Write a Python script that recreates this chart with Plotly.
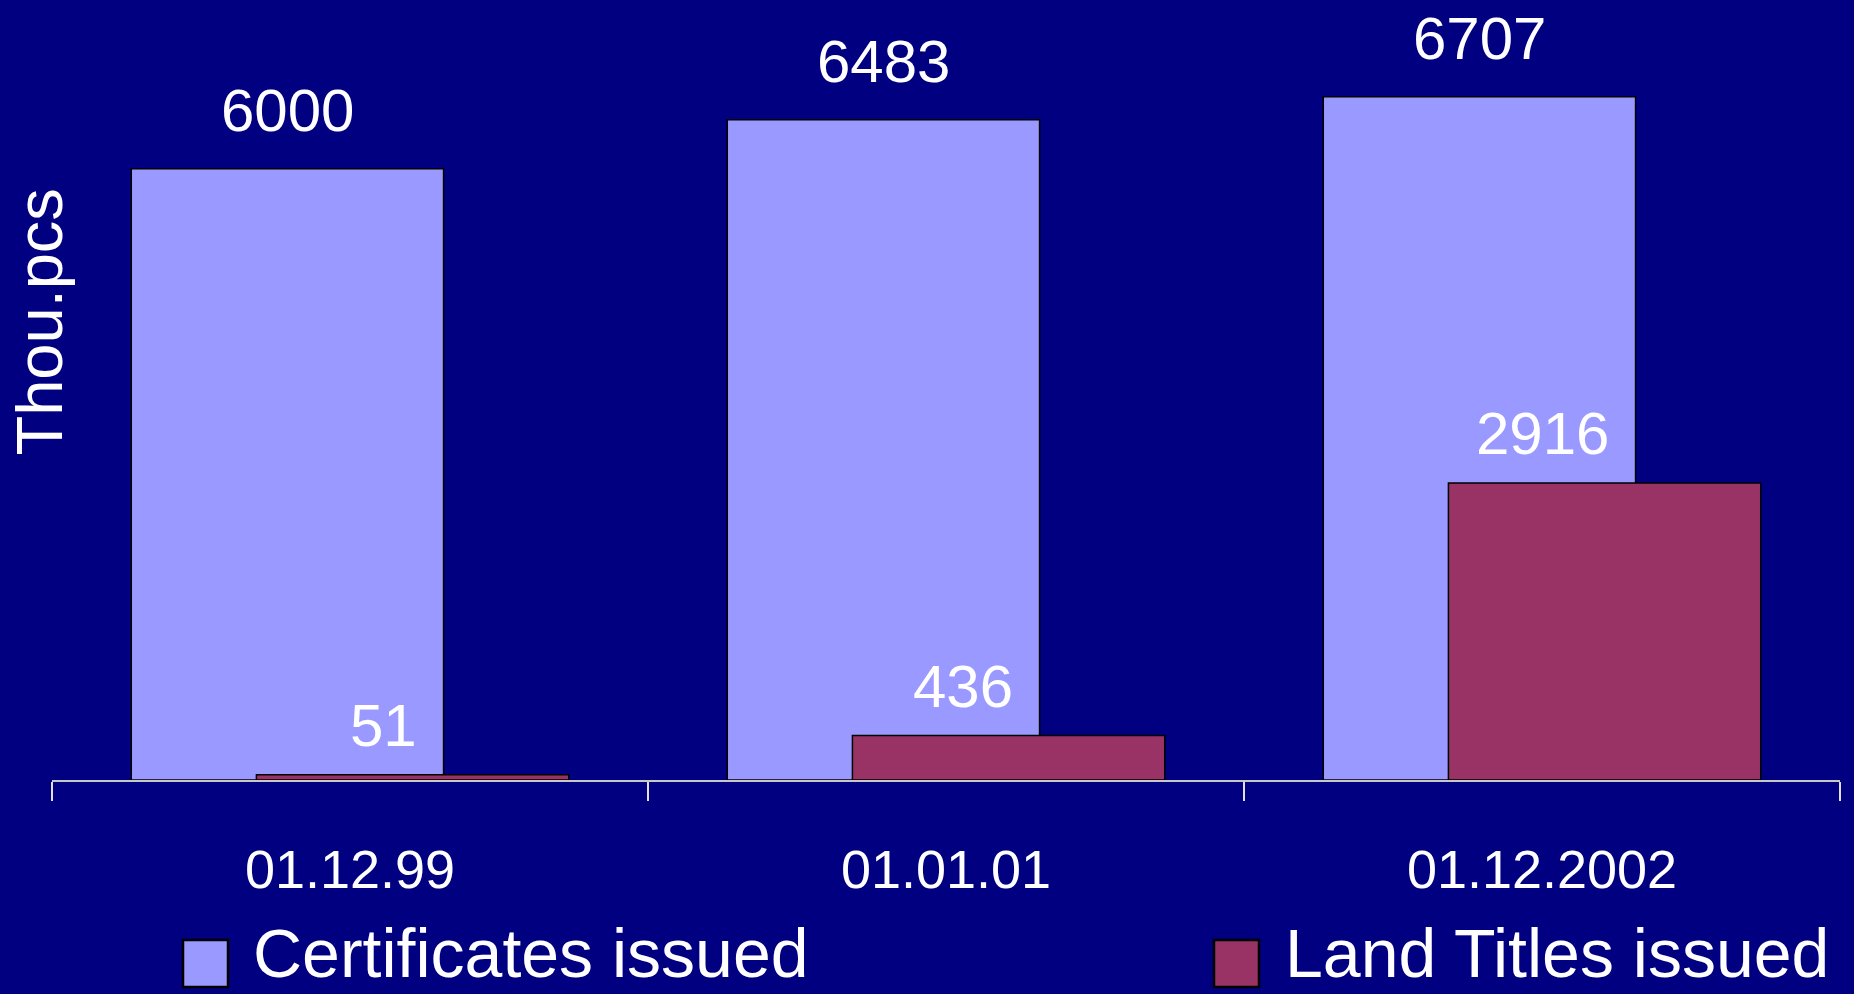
import plotly.graph_objects as go

# ---- data ----
dates = ["01.12.99", "01.01.01", "01.12.2002"]
certificates = [6000, 6483, 6707]
land_titles = [51, 436, 2916]
series_names = ["Certificates issued", "Land Titles issued"]
y_title = "Thou.pcs"

# ---- style ----
BG = "#000080"
C_CERT = "#9999FF"
C_LAND = "#993366"
FONT = "Liberation Sans"
BAR_W = 0.524
SHIFT = 0.105

W, H = 1854, 994
ML, MR, MT, MB = 52, 14, 67, 214
PW = W - ML - MR
PH = H - MT - MB

fig = go.Figure()
fig.add_trace(go.Bar(
    x=dates, y=certificates, name=series_names[0],
    width=BAR_W, offset=-SHIFT - BAR_W / 2,
    marker=dict(color=C_CERT, line=dict(color="black", width=1.5)),
    showlegend=False, hoverinfo="x+y",
))
fig.add_trace(go.Bar(
    x=dates, y=land_titles, name=series_names[1],
    width=BAR_W, offset=SHIFT - BAR_W / 2,
    marker=dict(color=C_LAND, line=dict(color="black", width=1.5)),
    showlegend=False, hoverinfo="x+y",
))

annotations = []
for i, v in enumerate(certificates):
    annotations.append(dict(
        x=i - SHIFT, y=v, xref="x", yref="y", text=str(v), showarrow=False,
        xanchor="center", yanchor="middle", yshift=58,
        font=dict(family=FONT, size=60, color="white"),
    ))
for i, v in enumerate(land_titles):
    annotations.append(dict(
        x=i + 0.115, y=v, xref="x", yref="y", text=str(v), showarrow=False,
        xanchor="right", yanchor="middle", yshift=49,
        font=dict(family=FONT, size=60, color="white"),
    ))

# y-axis title
annotations.append(dict(
    x=(38.5 - ML) / PW, y=(MT + PH - 322) / PH, xref="paper", yref="paper",
    text=y_title, textangle=-90, showarrow=False,
    xanchor="center", yanchor="middle",
    font=dict(family=FONT, size=65, color="white"),
))

# legend (drawn manually so the swatches can be large)
def px_x(p):
    return (p - ML) / PW

def px_y(p):
    return (MT + PH - p) / PH

shapes = []
legend_items = [(183, 228, 251, C_CERT, series_names[0]),
                (1214, 1259, 1283, C_LAND, series_names[1])]
for x0, x1, tx, col, name in legend_items:
    shapes.append(dict(
        type="rect", xref="paper", yref="paper",
        x0=px_x(x0), x1=px_x(x1), y0=px_y(987), y1=px_y(940),
        fillcolor=col, line=dict(color="black", width=2.5), layer="above",
    ))
    annotations.append(dict(
        x=px_x(tx), y=px_y(993), xref="paper", yref="paper",
        text=name, showarrow=False, xanchor="left", yanchor="bottom",
        font=dict(family=FONT, size=68, color="white"),
    ))

fig.update_layout(
    width=W, height=H, autosize=False,
    margin=dict(l=ML, r=MR, t=MT, b=MB, pad=0),
    paper_bgcolor=BG, plot_bgcolor=BG,
    barmode="overlay",
    annotations=annotations, shapes=shapes,
    showlegend=False,
    font=dict(family=FONT, color="white"),
)
fig.update_xaxes(
    type="category", range=[-0.5, 2.5],
    showline=True, linecolor="#c8c8c8", linewidth=2,
    ticks="outside", tickson="boundaries", ticklen=19, tickwidth=1.5,
    tickcolor="#e0e0e0", ticklabelstandoff=41,
    tickfont=dict(family=FONT, size=54, color="white"),
    showgrid=False, zeroline=False, fixedrange=True,
)
fig.update_yaxes(
    range=[0, 7000], showgrid=False, zeroline=False,
    showticklabels=False, showline=False, ticks="", fixedrange=True,
)

fig.write_html(
    "out.html",
    config={"displayModeBar": False},
    post_script="document.body.style.margin='0';document.body.style.background='#000080';",
)
